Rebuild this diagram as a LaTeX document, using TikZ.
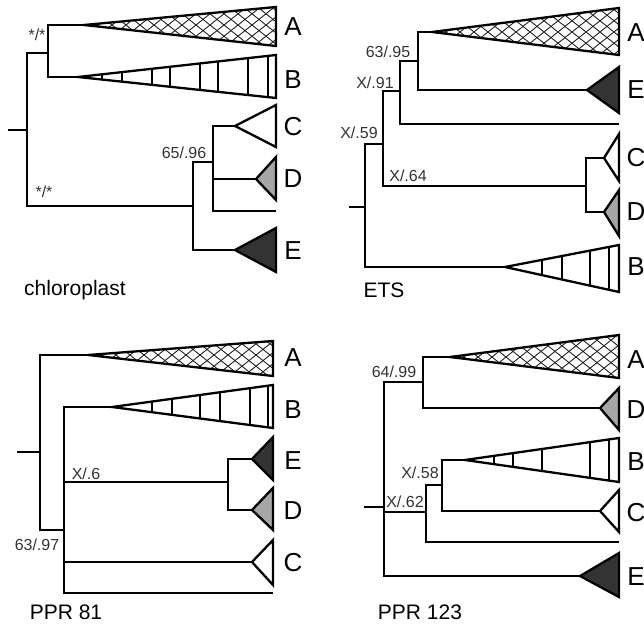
\documentclass[tikz,border=0pt]{standalone}
\usepackage{fontspec}
\setmainfont{Liberation Sans}
\usepackage{tikz}

% clade triangles: apex x, apex y, right x, top y, bottom y, ...
\newcommand{\cladetri}[6]{%
  \filldraw[clade, fill=#6] (#1,#2) -- (#3,#4) -- (#3,#5) -- cycle;}
\newcommand{\stripetri}[6]{%
  \begin{scope}
    \clip (#1,#2) -- (#3,#4) -- (#3,#5) -- cycle;
    \foreach \hx in {#6} \draw[stripe] (\hx,#4) -- (\hx,#5);
  \end{scope}
  \draw[clade] (#1,#2) -- (#3,#4) -- (#3,#5) -- cycle;}
\newcommand{\meshtri}[5]{%
  \begin{scope}
    \clip (#1,#2) -- (#3,#4) -- (#3,#5) -- cycle;
    \foreach \k in {0,...,22} {
      \draw[mesh] ({#1+14*\k-40},{#2-32}) -- ++(80,64);
      \draw[mesh] ({#1+14*\k-40},{#2+32}) -- ++(80,-64);
    }
  \end{scope}
  \draw[clade] (#1,#2) -- (#3,#4) -- (#3,#5) -- cycle;}

\begin{document}
\begin{tikzpicture}[
    x=1pt, y=-1pt,
    branch/.style={line width=2.3pt},
    clade/.style={line width=2.3pt, line join=miter},
    stripe/.style={line width=1.4pt},
    mesh/.style={line width=0.9pt, black!85},
    leaf/.style={font=\fontsize{26}{26}\selectfont, inner sep=0pt},
    support/.style={font=\fontsize{16}{16}\selectfont, text=black!80, inner sep=0pt},
    caption/.style={font=\fontsize{21}{21}\selectfont, inner sep=0pt}
]
    \useasboundingbox (0,0) rectangle (644,623);

    % chloroplast
    \meshtri{84}{25}{276}{7}{46}
    \stripetri{78}{77}{276}{55}{98}{102,122,152,170,200,218,248,268}
    \cladetri{235}{126}{276}{105}{147}{white}
    \cladetri{256}{179}{276}{157}{200}{black!35}
    \cladetri{235}{250}{276}{228}{272}{black!80}
    \draw[branch] (8,130) -- (27,130);
    \draw[branch] (84,25) -- (48,25) |- (78,77);
    \draw[branch] (48,53) -- (27,53) |- (193,206);
    \draw[branch] (213,162) -- (193,162) |- (235,250);
    \draw[branch] (235,126) -| (213,211) -- (276,211);
    \draw[branch] (213,179) -- (256,179);
    \node[leaf] (chlA) at (293,27) {A};
    \node[leaf] (chlB) at (293,80) {B};
    \node[leaf] (chlC) at (293,127) {C};
    \node[leaf] (chlD) at (293,179) {D};
    \node[leaf] (chlE) at (293,251) {E};
    \node[support] (chlS1) at (37,35) {*/*};
    \node[support] (chlS2) at (44,192) {*/*};
    \node[support] (chlS3) at (184,153) {65/.96};
    \node[caption] (chlT) at (75,290) {chloroplast};

    % ETS
    \meshtri{432}{32}{619}{8}{55}
    \cladetri{587}{90}{619}{67}{113}{black!80}
    \cladetri{604}{158}{619}{134}{181}{white}
    \cladetri{604}{212}{619}{190}{236}{black!35}
    \stripetri{505}{267}{619}{245}{292}{542,562,590,609}
    \draw[branch] (349,207) -- (365,207);
    \draw[branch] (383,144) -- (365,144) |- (505,267);
    \draw[branch] (400,91) -- (383,91) |- (586,186);
    \draw[branch] (418,61) -- (400,61) |- (619,124);
    \draw[branch] (432,32) -- (418,32) |- (587,90);
    \draw[branch] (604,158) -| (586,212) -- (604,212);
    \node[leaf] (etsA) at (636,33) {A};
    \node[leaf] (etsE) at (636,90) {E};
    \node[leaf] (etsC) at (636,158) {C};
    \node[leaf] (etsD) at (636,212) {D};
    \node[leaf] (etsB) at (636,267) {B};
    \node[support] (etsS1) at (388,52) {63/.95};
    \node[support] (etsS2) at (375,83) {X/.91};
    \node[support] (etsS3) at (359,133) {X/.59};
    \node[support] (etsS4) at (408,176) {X/.64};
    \node[caption] (etsT) at (384,290) {ETS};

    % PPR 81
    \meshtri{88}{355}{273}{341}{376}
    \stripetri{112}{407}{273}{385}{428}{152,172,200,220,250,268}
    \cladetri{252}{459}{273}{437}{480}{black!80}
    \cladetri{252}{510}{273}{488}{530}{black!35}
    \cladetri{252}{562}{273}{540}{585}{white}
    \draw[branch] (17,452) -- (40,452);
    \draw[branch] (88,355) -- (40,355) |- (64,530);
    \draw[branch] (112,407) -- (64,407) |- (273,593);
    \draw[branch] (64,482) -- (228,482);
    \draw[branch] (252,459) -| (228,510) -- (252,510);
    \draw[branch] (64,562) -- (252,562);
    \node[leaf] (p81A) at (293,358) {A};
    \node[leaf] (p81B) at (293,410) {B};
    \node[leaf] (p81E) at (293,461) {E};
    \node[leaf] (p81D) at (293,511) {D};
    \node[leaf] (p81C) at (293,563) {C};
    \node[support] (p81S1) at (37,545) {63/.97};
    \node[support] (p81S2) at (86,474) {X/.6};
    \node[caption] (p81T) at (66,612) {PPR 81};

    % PPR 123
    \meshtri{450}{357}{619}{335}{378}
    \cladetri{600}{408}{619}{388}{430}{black!35}
    \stripetri{465}{460}{619}{438}{482}{494,513,542,590,609}
    \cladetri{600}{511}{619}{490}{532}{white}
    \cladetri{580}{576}{619}{553}{597}{black!80}
    \draw[branch] (364,507) -- (384,507);
    \draw[branch] (423,382) -- (384,382) |- (580,576);
    \draw[branch] (450,357) -- (423,357) |- (600,408);
    \draw[branch] (384,512) -- (426,512);
    \draw[branch] (442,485) -- (426,485) |- (619,542);
    \draw[branch] (465,460) -- (442,460) |- (600,511);
    \node[leaf] (p123A) at (636,360) {A};
    \node[leaf] (p123D) at (636,410) {D};
    \node[leaf] (p123B) at (636,462) {B};
    \node[leaf] (p123C) at (636,513) {C};
    \node[leaf] (p123E) at (636,577) {E};
    \node[support] (p123S1) at (394,372) {64/.99};
    \node[support] (p123S2) at (420,473) {X/.58};
    \node[support] (p123S3) at (405,502) {X/.62};
    \node[caption] (p123T) at (420,612) {PPR 123};
\end{tikzpicture}
\end{document}
